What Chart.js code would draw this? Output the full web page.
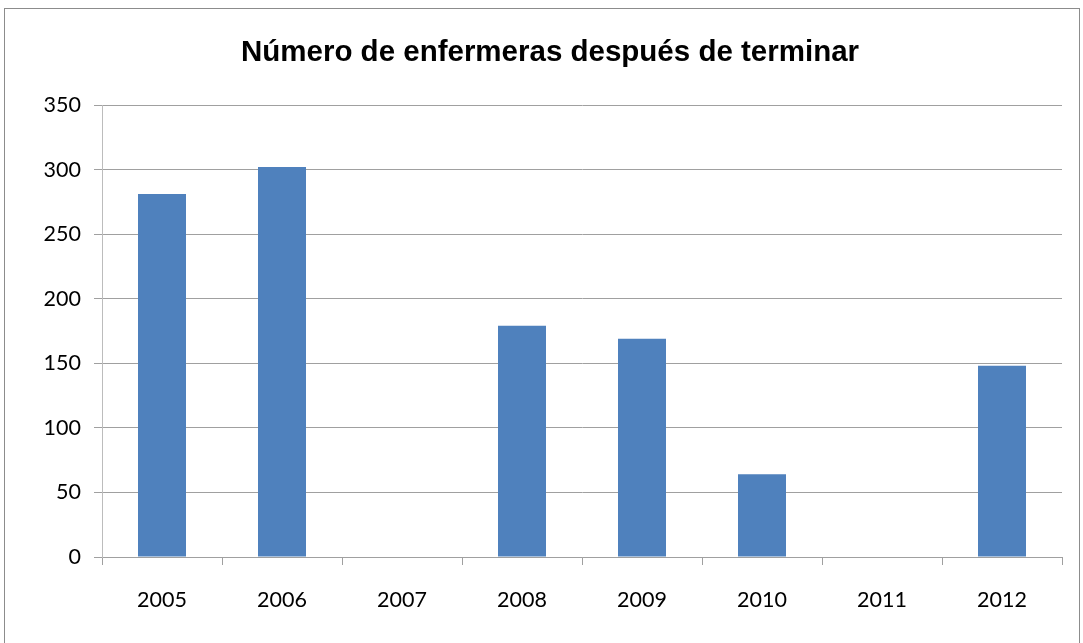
<!DOCTYPE html>
<html>
<head>
<meta charset="utf-8">
<script src="https://cdn.jsdelivr.net/npm/chart.js@4"></script>
<style>
    body { margin: 0; background: #fff; }
    #frame { position: absolute; left: 4px; top: 8px; width: 1076px; height: 660px; border: 1px solid #8c8c8c; box-sizing: border-box; }
    #wrap { position: absolute; left: 0; top: 0; width: 1083px; height: 643px; }
</style>
</head>
<body>
<div id="frame"></div>
<div id="wrap"><canvas id="nursesChart" width="1083" height="643"></canvas></div>
<script>
const chartTitle = 'Número de enfermeras después de terminar';
const years = ['2005', '2006', '2007', '2008', '2009', '2010', '2011', '2012'];
const nurses = [281, 302, 0, 179, 169, 64, 0, 148];
const yTicks = [0, 50, 100, 150, 200, 250, 300, 350];

// Title drawn by hand: in the original it sits a little right of the canvas centre
const titlePlugin = {
    id: 'sheetTitle',
    afterDraw(chart) {
        const c = chart.ctx;
        c.save();
        c.font = 'bold 29.5px "Liberation Sans"';
        c.fillStyle = '#000';
        c.textAlign = 'center';
        c.textBaseline = 'middle';
        c.fillText(chartTitle, 550, 53);
        c.restore();
    }
};

const ctx = document.getElementById('nursesChart').getContext('2d');
const nursesChart = new Chart(ctx, {
    type: 'bar',
    data: {
        labels: years,
        datasets: [{
            label: 'Enfermeras',
            data: nurses,
            backgroundColor: '#4f81bd',
            categoryPercentage: 1.0,
            barPercentage: 0.4
        }]
    },
    plugins: [titlePlugin],
    options: {
        responsive: false,
        animation: false,
        layout: { padding: { left: 0, right: 21, top: 105, bottom: 0 } },
        plugins: {
            legend: { display: false },
            tooltip: { enabled: false },
            title: { display: false }
        },
        scales: {
            x: {
                grid: { drawOnChartArea: false, color: '#a0a0a0', tickLength: 8 },
                border: { color: '#a0a0a0' },
                ticks: { color: '#000', font: { family: 'Lato', size: 21.5 }, padding: 22 },
                afterFit: scale => { scale.height = 86; }
            },
            y: {
                min: 0,
                max: 350,
                afterBuildTicks: scale => { scale.ticks = yTicks.map(v => ({ value: v })); },
                grid: { color: '#a0a0a0', tickLength: 8 },
                border: { color: '#bcbcbc' },
                ticks: { color: '#000', font: { family: 'Lato', size: 21.5 }, padding: 13 },
                afterFit: scale => { scale.width = 102; }
            }
        }
    }
});
</script>
</body>
</html>
